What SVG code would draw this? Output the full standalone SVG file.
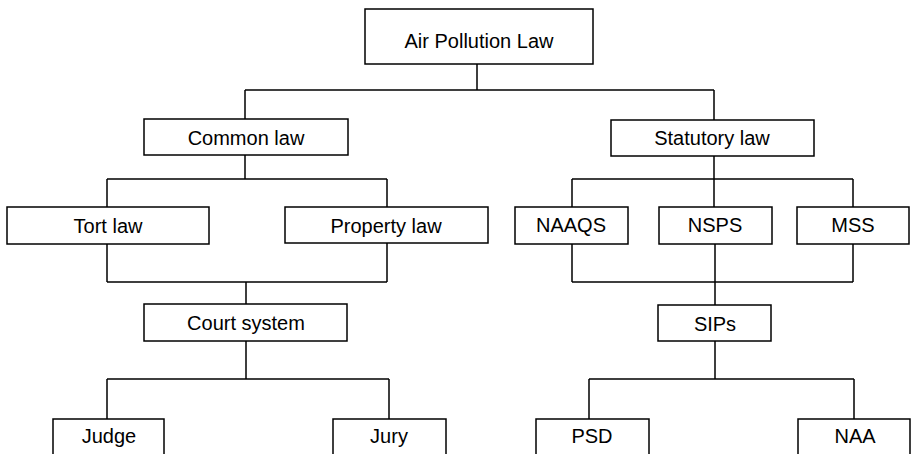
<svg xmlns="http://www.w3.org/2000/svg" width="912" height="454" viewBox="0 0 912 454">
<style>
.box{fill:#fff;stroke:#000;stroke-width:1.5}
.lbl{font-family:"Liberation Sans",Arial,sans-serif;font-size:20px;fill:#000;text-anchor:middle}
.conn{fill:none;stroke:#000;stroke-width:1.5}
</style>
<rect width="912" height="454" fill="#fff"/>
<g id="connectors" class="conn">
<path d="M477 64V90M245 90H714M245 90V119M714 90V120"/>
<path d="M245 155V179M107 179H387M107 179V207M387 179V207"/>
<path d="M107 244V282M387 243V282M107 282H387M246 282V304"/>
<path d="M246 341V379M107 379H389M107 379V419M389 379V419"/>
<path d="M714 156V179M572 179H853M572 179V207M714 179V207M853 179V207"/>
<path d="M572 244V282M715 244V282M853 244V282M572 282H853M715 282V305"/>
<path d="M715 341V379M589 379H854M589 379V419M854 379V419"/>
</g>
<g id="air-pollution-law"><rect class="box" x="365" y="9" width="228" height="55"/><text class="lbl" x="479" y="48">Air Pollution Law</text></g>
<g id="common-law"><rect class="box" x="144" y="119" width="204" height="36"/><text class="lbl" x="246" y="145">Common law</text></g>
<g id="statutory-law"><rect class="box" x="611" y="120" width="203" height="36"/><text class="lbl" x="712" y="145">Statutory law</text></g>
<g id="tort-law"><rect class="box" x="7" y="207" width="202" height="37"/><text class="lbl" x="108" y="233">Tort law</text></g>
<g id="property-law"><rect class="box" x="285" y="207" width="203" height="36"/><text class="lbl" x="386" y="233">Property law</text></g>
<g id="naaqs"><rect class="box" x="515" y="207" width="113" height="37"/><text class="lbl" x="571" y="232">NAAQS</text></g>
<g id="nsps"><rect class="box" x="659" y="207" width="113" height="37"/><text class="lbl" x="715" y="232">NSPS</text></g>
<g id="mss"><rect class="box" x="797" y="207" width="112" height="37"/><text class="lbl" x="853" y="232">MSS</text></g>
<g id="court-system"><rect class="box" x="144" y="304" width="203" height="37"/><text class="lbl" x="246" y="330">Court system</text></g>
<g id="sips"><rect class="box" x="658" y="305" width="113" height="36"/><text class="lbl" x="715" y="331">SIPs</text></g>
<g id="judge"><rect class="box" x="53" y="419" width="111" height="50"/><text class="lbl" x="109" y="443">Judge</text></g>
<g id="jury"><rect class="box" x="333" y="419" width="113" height="50"/><text class="lbl" x="389" y="443">Jury</text></g>
<g id="psd"><rect class="box" x="536" y="419" width="113" height="50"/><text class="lbl" x="592" y="443">PSD</text></g>
<g id="naa"><rect class="box" x="798" y="419" width="112" height="50"/><text class="lbl" x="855" y="443">NAA</text></g>
</svg>
